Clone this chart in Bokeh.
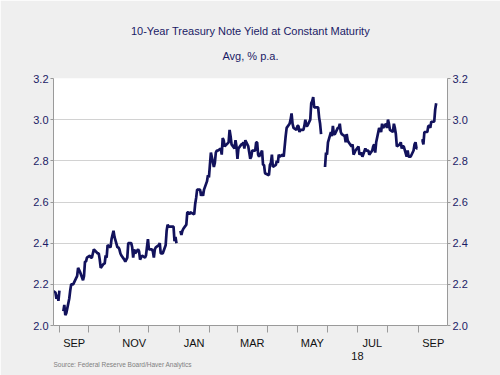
import numpy as np
import pandas as pd
from bokeh.plotting import figure
from bokeh.models import FixedTicker, LinearAxis, Title, Range1d, PrintfTickFormatter
from bokeh.embed import file_html
from bokeh.resources import INLINE

title_text = "10-Year Treasury Note Yield at Constant Maturity"
subtitle_text = "Avg, % p.a."
source_text = "Source:  Federal Reserve Board/Haver Analytics"

# daily yields (business days, None = no observation)
start_aug17 = "2017-08-25"
yld_aug17 = [2.17, 2.16, 2.13, 2.15, 2.12]
start_sep17 = "2017-09-01"
yld_sep17 = [2.17, None, 2.07, 2.10, 2.05, 2.06, 2.13, 2.17, 2.20, 2.20, 2.20, 2.23, 2.24, 2.28, 2.27, 2.26,
             2.22, 2.24, 2.31, 2.31, 2.33]
start_oct17 = "2017-10-01"
yld_oct17 = [2.34, 2.33, 2.33, 2.35, 2.37, None, 2.35, 2.35, 2.32, 2.28, 2.30, 2.30, 2.34, 2.33, 2.39, 2.38,
             2.42, 2.44, 2.46, 2.43, 2.38, 2.38]
start_nov17 = "2017-11-01"
yld_nov17 = [2.37, 2.35, 2.34, 2.32, 2.31, 2.32, 2.33, 2.40, 2.40, 2.38, 2.33, 2.37, 2.35, 2.37, 2.36, 2.32,
             None, 2.34, 2.33, 2.34, 2.38, 2.42]
start_dec17 = "2017-12-01"
yld_dec17 = [2.37, 2.37, 2.36, 2.33, 2.37, 2.38, 2.39, 2.40, 2.35, 2.35, 2.35, 2.39, 2.46, 2.49, 2.48, 2.48,
             None, 2.48, 2.41, 2.43, 2.40]
start_jan18 = "2018-01-01"
yld_jan18 = [None, 2.46, 2.44, 2.46, 2.47, 2.49, 2.55, 2.55, 2.54, 2.55, None, 2.54, 2.59, 2.62, 2.66, 2.66,
             2.63, 2.65, 2.63, 2.66, 2.70, 2.73, 2.72]
start_feb18 = "2018-02-01"
yld_feb18 = [2.78, 2.84, 2.77, 2.79, 2.84, 2.85, 2.85, 2.86, 2.83, 2.91, 2.90, 2.87, None, 2.89, 2.95, 2.92,
             2.88, 2.86, 2.90, 2.87]
start_mar18 = "2018-03-01"
yld_mar18 = [2.81, 2.86, 2.88, 2.88, 2.89, 2.86, 2.90, 2.87, 2.84, 2.81, 2.82, 2.85, 2.85, 2.89, 2.89, 2.83,
             2.82, 2.85, 2.78, 2.78, 2.74, None]
start_apr18 = "2018-04-01"
yld_apr18 = [2.73, 2.78, 2.79, 2.83, 2.77, 2.78, 2.80, 2.79, 2.83, 2.82, 2.83, 2.82, 2.87, 2.92, 2.96, 2.98,
             3.00, 3.03, 2.98, 2.96, 2.95]
start_may18 = "2018-05-01"
yld_may18 = [2.97, 2.97, 2.94, 2.95, 2.95, 2.97, 3.00, 2.97, 2.97, 3.00, 3.08, 3.09, 3.11, 3.06, 3.06, 3.06,
             3.01, 2.98, 2.93, None, 2.77, 2.84, 2.83]
start_jun18 = "2018-06-01"
yld_jun18 = [2.89, 2.94, 2.92, 2.97, 2.93, 2.93, 2.96, 2.96, 2.98, 2.94, 2.93, 2.92, 2.89, 2.93, 2.90, 2.89,
             2.87, 2.88, 2.83, 2.84, 2.85]
start_jul18 = "2018-07-01"
yld_jul18 = [2.87, 2.83, None, 2.84, 2.82, 2.86, 2.85, 2.85, 2.85, 2.83, 2.85, 2.87, 2.88, 2.84, 2.89, 2.96,
             2.95, 2.94, 2.98, 2.96, 2.98, 2.96]
start_aug18 = "2018-08-01"
yld_aug18 = [3.00, 2.98, 2.95, 2.94, 2.98, 2.96, 2.93, 2.87, 2.88, 2.89, 2.86, 2.87, 2.87, 2.82, 2.85, 2.82,
             2.82, 2.82, 2.85, 2.88, 2.89, 2.86, 2.86]
start_sep18 = "2018-09-01"
yld_sep18 = [None, 2.90, 2.90, 2.88, 2.94, 2.94, 2.97, 2.97, 2.96, 2.99, 2.99, 3.05, 3.08]

# holidays where the line is broken
gap_days = ["2017-09-04", "2018-01-01", "2018-05-28", "2018-09-03"]

# axis
y_ticks = [2.0, 2.2, 2.4, 2.6, 2.8, 3.0, 3.2]
tick_months = ["2017-09", "2017-10", "2017-11", "2017-12", "2018-01", "2018-02", "2018-03",
               "2018-04", "2018-05", "2018-06", "2018-07", "2018-08", "2018-09"]
label_months = ["2017-09", "2017-11", "2018-01", "2018-03", "2018-05", "2018-07", "2018-09"]
label_names = ["SEP", "NOV", "JAN", "MAR", "MAY", "JUL", "SEP"]
year_month = "2018-07"
year_label = "18"
x_first = "2017-08-26"
x_last = "2018-09-30"

origin = pd.Timestamp("2017-09-01")
def day(ts):
    return (pd.Timestamp(ts) - origin).days

segments = [(start_aug17, yld_aug17), (start_sep17, yld_sep17), (start_oct17, yld_oct17),
            (start_nov17, yld_nov17), (start_dec17, yld_dec17), (start_jan18, yld_jan18),
            (start_feb18, yld_feb18), (start_mar18, yld_mar18), (start_apr18, yld_apr18),
            (start_may18, yld_may18), (start_jun18, yld_jun18), (start_jul18, yld_jul18),
            (start_aug18, yld_aug18), (start_sep18, yld_sep18)]
xs, ys = [], []
for st, vals in segments:
    dates = pd.bdate_range(st, periods=len(vals))
    for d, v in zip(dates, vals):
        if v is None:
            if d.strftime("%Y-%m-%d") in gap_days:
                xs.append(day(d)); ys.append(np.nan)
            continue
        xs.append(day(d)); ys.append(v)

minor_pos = [day(m + "-01") for m in tick_months]
label_pos = []
for m in label_months:
    s = pd.Timestamp(m + "-01")
    label_pos.append(int(day(s) + s.days_in_month // 2))
year_pos = day(year_month + "-01")

NAVY = "#1b1b66"
FONT = "Liberation Sans"

p = figure(width=500, height=375, output_backend="svg", toolbar_location=None,
           x_range=Range1d(day(x_first), day(x_last) + 0.5), y_range=Range1d(2.0, 3.2),
           min_border_left=53, min_border_right=53, min_border_top=78, min_border_bottom=50,
           border_fill_color="#efefef", background_fill_color="white",
           outline_line_color=None)

p.title.text = title_text
p.title.align = "center"
p.title.text_font = FONT
p.title.text_font_size = "11px"
p.title.text_font_style = "normal"
p.title.text_color = NAVY
p.title.standoff = -11
sub = Title(text=subtitle_text, align="center", text_font=FONT, text_font_size="11px",
            text_font_style="normal", text_color=NAVY, standoff=33)
p.add_layout(sub, "above")

p.line(xs, ys, line_width=2.7, color="#12125c")

p.xgrid.visible = False
p.ygrid.ticker = FixedTicker(ticks=y_ticks)
p.ygrid.grid_line_color = "#d2d2d2"

AX_COLOR = "#9a9a9a"
def style_y(ax):
    ax.ticker = FixedTicker(ticks=y_ticks)
    ax.formatter = PrintfTickFormatter(format="%.1f")
    ax.axis_line_color = AX_COLOR
    ax.major_tick_line_color = AX_COLOR
    ax.major_tick_out = 3
    ax.major_tick_in = 0
    ax.minor_tick_line_color = None
    ax.major_label_text_font = FONT
    ax.major_label_text_font_size = "11px"
    ax.major_label_text_color = NAVY
    ax.major_label_standoff = 2

style_y(p.yaxis[0])
right = LinearAxis()
style_y(right)
p.add_layout(right, "right")

xa = p.xaxis[0]
xa.ticker = FixedTicker(ticks=label_pos, minor_ticks=minor_pos)
xa.major_label_overrides = {pos: name for pos, name in zip(label_pos, label_names)}
xa.axis_line_color = AX_COLOR
xa.major_tick_line_color = None
xa.major_tick_out = 7
xa.major_tick_in = 0
xa.minor_tick_line_color = AX_COLOR
xa.minor_tick_out = 7
xa.minor_tick_in = 0
xa.major_label_text_font = FONT
xa.major_label_text_font_size = "11px"
xa.major_label_text_color = "#111111"
xa.major_label_standoff = 4

ya = LinearAxis(ticker=FixedTicker(ticks=[year_pos], minor_ticks=[]),
                major_label_overrides={year_pos: year_label})
ya.axis_line_color = None
ya.major_tick_line_color = None
ya.major_tick_out = 0
ya.major_tick_in = 0
ya.minor_tick_line_color = None
ya.major_label_text_font = FONT
ya.major_label_text_font_size = "11px"
ya.major_label_text_color = "#111111"
ya.major_label_standoff = 0
p.add_layout(ya, "below")

src = Title(text=source_text, align="left", text_font=FONT, text_font_size="6.5px",
            text_font_style="normal", text_color="#808080", standoff=-8)
p.add_layout(src, "below")

open("out.html", "w").write(file_html(p, INLINE))
